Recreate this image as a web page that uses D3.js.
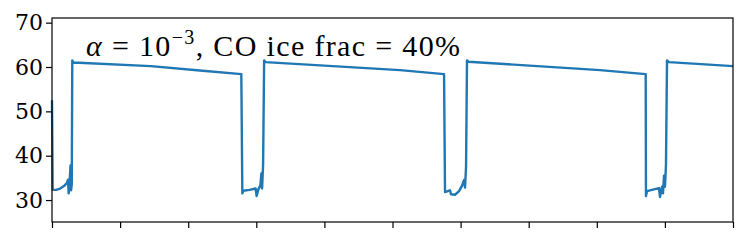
<!DOCTYPE html>
<html><head><meta charset="utf-8">
<script src="https://cdn.jsdelivr.net/npm/d3@7"></script>
<style>body{margin:0;background:#fff}</style>
</head><body>
<script>
const xValues = [0.000,0.010,0.06,0.12,0.18,0.22,0.235,0.245,0.258,0.272,0.280,0.290,0.298,0.315,1.45,2.17,2.78,
 2.795,2.81,2.90,2.99,3.005,3.03,3.06,3.075,3.085,3.10,3.115,3.135,5.11,5.757,
 5.771,5.844,5.859,5.918,5.977,6.02,6.05,6.065,6.08,6.094,6.116,8.047,8.718,
 8.722,8.737,8.913,8.928,8.957,8.972,8.987,9.001,9.016,9.031,9.06,10.0];
const yValues = [52.5,32.3,32.3,32.6,33.2,33.9,34.6,31.5,34.0,37.8,32.2,33.5,61.5,61.0,60.2,59.2,58.4,
 31.5,32.1,32.3,32.6,30.9,32.4,33.3,36.0,32.6,38.0,61.5,61.1,59.3,58.4,
 31.8,32.2,31.3,31.2,32.0,33.2,34.5,32.8,37.5,61.5,61.2,59.3,58.4,
 30.9,32.0,32.7,30.7,33.0,31.5,35.5,33.0,38.0,61.5,61.1,60.2];
const yTicks = [30,40,50,60,70];
const xTicks = [0,1,2,3,4,5,6,7,8,9,10];

const W=747,H=243;
const m={l:52,r:14,t:18,b:21};
const svg=d3.select("body").append("svg").attr("width",W).attr("height",H);
const x=d3.scaleLinear().domain([0,10]).range([m.l,W-m.r]);
const y=d3.scaleLinear().domain([25.05,71.05]).range([H-m.b,m.t]);

const data=xValues.map((v,i)=>[v,yValues[i]]);
svg.append("path").datum(data)
  .attr("fill","none").attr("stroke","#1f77b4").attr("stroke-width",2.4)
  .attr("stroke-linejoin","round")
  .attr("d",d3.line().x(d=>x(d[0])).y(d=>y(d[1])));

const font="'Liberation Serif', 'DejaVu Serif', serif";
const ya=svg.append("g").attr("transform",`translate(${m.l},0)`)
  .call(d3.axisLeft(y).tickValues(yTicks).tickSize(6).tickPadding(3).tickFormat(d3.format("d")));
ya.selectAll("text").attr("font-family","'DejaVu Serif', serif").attr("font-size",22).attr("fill","#000");
const xa=svg.append("g").attr("transform",`translate(0,${H-m.b})`)
  .call(d3.axisBottom(x).tickValues(xTicks).tickSize(6).tickFormat(""));
svg.selectAll(".domain").remove();
svg.selectAll(".tick line").attr("stroke","#000").attr("stroke-width",1.2);
svg.append("rect").attr("x",m.l).attr("y",m.t).attr("width",W-m.r-m.l).attr("height",H-m.b-m.t)
  .attr("fill","none").attr("stroke","#000").attr("stroke-width",1.2);

const t=svg.append("text").attr("x",86).attr("y",56).attr("font-family",font).attr("font-size",30).attr("fill","#000")
  .attr("textLength",374).attr("lengthAdjust","spacing");
t.append("tspan").attr("font-style","italic").text("α");
t.append("tspan").text(" = 10");
t.append("tspan").attr("font-size",20).attr("dy",-12).text("−3");
t.append("tspan").attr("dy",12).text(", CO ice frac = 40%");
</script>
</body></html>
